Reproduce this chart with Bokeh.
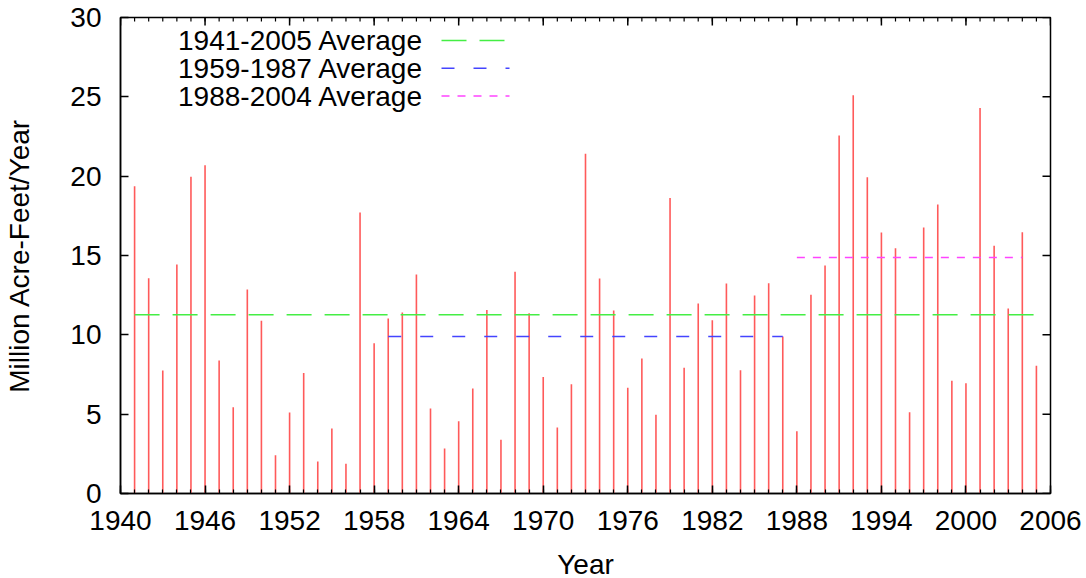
from bokeh.plotting import figure
from bokeh.models import Range1d, LinearAxis, FixedTicker
from bokeh.embed import file_html
from bokeh.resources import INLINE
from bokeh.core.properties import value

years = list(range(1941, 2006))
flows = [19.36, 13.57, 7.75, 14.43, 19.97, 20.69, 8.38, 5.44, 12.85, 10.88,
         2.41, 5.10, 7.60, 2.02, 4.10, 1.87, 17.71, 9.47, 11.03, 11.41,
         13.80, 5.36, 2.84, 4.56, 6.62, 11.57, 3.38, 13.97, 11.36, 7.35,
         4.16, 6.89, 21.42, 13.55, 11.53, 6.66, 8.51, 4.96, 18.63, 7.92,
         11.97, 10.92, 13.23, 7.77, 12.48, 13.25, 9.89, 3.93, 12.52, 14.37,
         22.56, 25.10, 19.93, 16.45, 15.46, 5.12, 16.76, 18.21, 7.10, 6.95,
         24.30, 15.61, 11.66, 16.47, 8.05]

avg_names = ["1941-2005 Average", "1959-1987 Average", "1988-2004 Average"]
avg_start = [1941, 1959, 1988]
avg_end = [2005, 1987, 2004]
avg_value = [11.26, 9.89, 14.87]
avg_colors = ["#44ee44", "#4444ff", "#ff44ff"]
avg_dash = ["25 13", "13 19", "8 8"]

x_major_ticks = [1940, 1946, 1952, 1958, 1964, 1970, 1976, 1982, 1988,
                 1994, 2000, 2006]
x_minor_ticks = list(range(1940, 2007))
y_major_ticks = [0, 5, 10, 15, 20, 25, 30]

x_title = "Year"
y_title = "Million Acre-Feet/Year"

FONT = "Liberation Sans"
FS = "28px"

X0, X1, Y0, Y1 = 1940, 2006, 0, 30
FW, FH = 930, 476

p = figure(frame_width=FW, frame_height=FH,
           x_range=Range1d(X0, X1), y_range=Range1d(Y0, Y1),
           output_backend="svg", toolbar_location=None,
           x_axis_type=None, y_axis_type=None,
           min_border_left=120, min_border_right=36,
           min_border_top=17, min_border_bottom=83)
p.outline_line_color = "black"
p.outline_line_width = 1.5
p.xgrid.visible = False
p.ygrid.visible = False
p.background_fill_color = "white"
p.border_fill_color = "white"


def style_axis(ax):
    ax.axis_line_color = "black"
    ax.axis_line_width = 1.5
    ax.major_tick_in = 8
    ax.major_tick_out = 0
    ax.minor_tick_in = 4
    ax.minor_tick_out = 0
    ax.major_tick_line_color = "black"
    ax.minor_tick_line_color = "black"
    ax.major_tick_line_width = 1.5
    ax.minor_tick_line_width = 1.2
    ax.major_label_text_font = FONT
    ax.major_label_text_font_size = FS
    ax.major_label_text_color = "black"
    ax.axis_label_text_font = FONT
    ax.axis_label_text_font_size = FS
    ax.axis_label_text_font_style = "normal"
    ax.axis_label_text_color = "black"


xb = LinearAxis(ticker=FixedTicker(ticks=x_major_ticks, minor_ticks=x_minor_ticks),
                axis_label=x_title)
style_axis(xb)
xb.major_label_standoff = 17
xb.axis_label_standoff = 16
p.add_layout(xb, "below")

yl = LinearAxis(ticker=FixedTicker(ticks=y_major_ticks), axis_label=y_title)
style_axis(yl)
yl.major_label_standoff = 19
yl.axis_label_standoff = 32
p.add_layout(yl, "left")


# helpers: pixel offsets inside the frame -> data units
def dx(px):
    return px / FW * (X1 - X0)


def dy(py):
    return py / FH * (Y1 - Y0)


# impulses
p.segment(x0=years, y0=[0] * len(years), x1=years, y1=flows,
          line_color="#ff5a5a", line_width=1.6)

# ticks on the top and right borders (mirrors of bottom / left axes)
p.segment(x0=x_major_ticks, y0=[Y1] * len(x_major_ticks),
          x1=x_major_ticks, y1=[Y1 - dy(8)] * len(x_major_ticks),
          line_color="black", line_width=1.5)
p.segment(x0=x_minor_ticks, y0=[Y1] * len(x_minor_ticks),
          x1=x_minor_ticks, y1=[Y1 - dy(4)] * len(x_minor_ticks),
          line_color="black", line_width=1.2)
p.segment(x0=[X1] * len(y_major_ticks), y0=y_major_ticks,
          x1=[X1 - dx(8)] * len(y_major_ticks), y1=y_major_ticks,
          line_color="black", line_width=1.5)

# average lines
for s, e, v, c, d in zip(avg_start, avg_end, avg_value, avg_colors, avg_dash):
    p.line(x=[s, e], y=[v, v], line_color=c, line_width=1.5, line_dash=d)

# legend (text left of line sample), positions in pixels from frame top-left
leg_text_right = 303
leg_line_x0, leg_line_x1 = 321, 389
leg_row0, leg_step = 23, 27.8
for i, (name, c, d) in enumerate(zip(avg_names, avg_colors, avg_dash)):
    yy = Y1 - dy(leg_row0 + i * leg_step)
    p.text(x=[X0 + dx(leg_text_right)], y=[yy], text=[name],
           text_font=value(FONT), text_font_size=FS, text_color="black",
           text_align="right", text_baseline="middle")
    p.line(x=[X0 + dx(leg_line_x0), X0 + dx(leg_line_x1)], y=[yy, yy],
           line_color=c, line_width=1.5, line_dash=d)

open("out.html", "w").write(file_html(p, INLINE))
